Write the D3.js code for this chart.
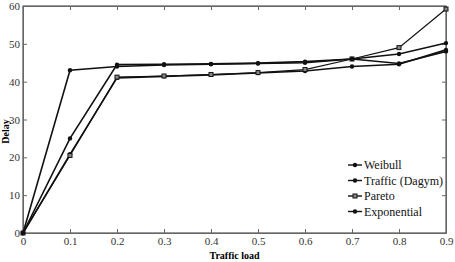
<!DOCTYPE html>
<html>
<head>
<meta charset="utf-8">
<script src="https://cdn.jsdelivr.net/npm/d3@7"></script>
<style>
  body { margin: 0; background: #fff; }
  svg text { font-family: "Liberation Serif", "Times New Roman", "DejaVu Serif", serif !important; }
</style>
</head>
<body>
<script>
// data
const loads = [0, 0.1, 0.2, 0.3, 0.4, 0.5, 0.6, 0.7, 0.8, 0.9];
const weibull = [0, 43, 44, 44.4, 44.6, 44.8, 45.0, 46.0, 47.3, 50.2];
const traffic = [0, 20.8, 41.0, 41.4, 41.8, 42.3, 42.8, 44.0, 44.6, 48.4];
const pareto = [0, 20.5, 41.2, 41.5, 41.9, 42.4, 43.2, 46.0, 49.0, 59.2];
const exponential = [0, 25, 44.5, 44.6, 44.7, 44.9, 45.3, 46.0, 44.8, 48.0];
const seriesNames = ["Weibull", "Traffic (Dagym)", "Pareto", "Exponential"];
const xTicks = [0, 0.1, 0.2, 0.3, 0.4, 0.5, 0.6, 0.7, 0.8, 0.9];
const yTicks = [0, 10, 20, 30, 40, 50, 60];

let margin = {top: 6, left: 23, bottom: 29, right: 9};
let width = 455 - margin.left - margin.right;
let height = 262 - margin.top - margin.bottom;

let svg = d3.select("body").append("svg")
  .attr("width", 455)
  .attr("height", 262)
  .append("g")
  .attr("transform", `translate(${margin.left}, ${margin.top})`);

let x = d3.scaleLinear().domain([0, 0.9]).range([0, width]);
let y = d3.scaleLinear().domain([0, 60]).range([height, 0]);

// frame
svg.append("rect")
  .attr("width", width).attr("height", height)
  .attr("fill", "none").attr("stroke", "#333").attr("stroke-width", 1);

// axes with inward ticks
svg.append("g")
  .attr("transform", `translate(0,${height})`)
  .call(d3.axisBottom(x).tickValues(xTicks).tickSizeInner(-4).tickSizeOuter(0).tickPadding(4)
    .tickFormat(d => d === 0 ? "0" : d3.format(".1f")(d)));
svg.append("g")
  .call(d3.axisTop(x).tickValues(xTicks).tickSizeInner(-4).tickSizeOuter(0).tickFormat(""));
svg.append("g")
  .call(d3.axisLeft(y).tickValues(yTicks).tickSizeInner(-4).tickSizeOuter(0).tickPadding(3));
svg.append("g")
  .attr("transform", `translate(${width},0)`)
  .call(d3.axisRight(y).tickValues(yTicks).tickSizeInner(-4).tickSizeOuter(0).tickFormat(""));

svg.selectAll(".domain").attr("stroke", "#666");
svg.selectAll(".tick line").attr("stroke", "#666");
svg.selectAll(".tick text").attr("font-size", 11).attr("fill", "#333");

// axis titles
svg.append("text")
  .attr("x", width / 2).attr("y", height + 26)
  .attr("text-anchor", "middle").attr("font-size", 10).attr("font-weight", "bold")
  .text("Traffic load");
svg.append("text")
  .attr("transform", `translate(${-14},${height / 2 + 12}) rotate(-90)`)
  .attr("text-anchor", "middle").attr("font-size", 10).attr("font-weight", "bold")
  .text("Delay");

let allSeries = [weibull, traffic, pareto, exponential];
let markers = ["dot", "dot", "square", "dot"];

let line = d3.line().x((d, i) => x(loads[i])).y(d => y(d));

allSeries.forEach((vals, s) => {
  svg.append("path")
    .datum(vals)
    .attr("d", line)
    .attr("fill", "none")
    .attr("stroke", "#111")
    .attr("stroke-width", s === 2 ? 1.2 : 1.6);
  let g = svg.append("g");
  vals.forEach((v, i) => drawMarker(g, x(loads[i]), y(v), markers[s]));
});

function drawMarker(g, cx, cy, kind) {
  if (kind === "square") {
    g.append("rect")
      .attr("x", cx - 2).attr("y", cy - 2).attr("width", 4).attr("height", 4)
      .attr("fill", "#888").attr("stroke", "#111").attr("stroke-width", 1);
  } else {
    g.append("circle").attr("cx", cx).attr("cy", cy).attr("r", 2.2).attr("fill", "#111");
  }
}

// legend
let legend = svg.append("g").attr("transform", `translate(${325},${159})`);
seriesNames.forEach((name, i) => {
  let ly = i * 15.5;
  legend.append("line")
    .attr("x1", 0).attr("x2", 14).attr("y1", ly).attr("y2", ly)
    .attr("stroke", "#111").attr("stroke-width", 1.4);
  drawMarker(legend, 7, ly, markers[i]);
  legend.append("text")
    .attr("x", 16).attr("y", ly + 4)
    .attr("font-size", 12).attr("fill", "#111")
    .text(name);
});
</script>
</body>
</html>
